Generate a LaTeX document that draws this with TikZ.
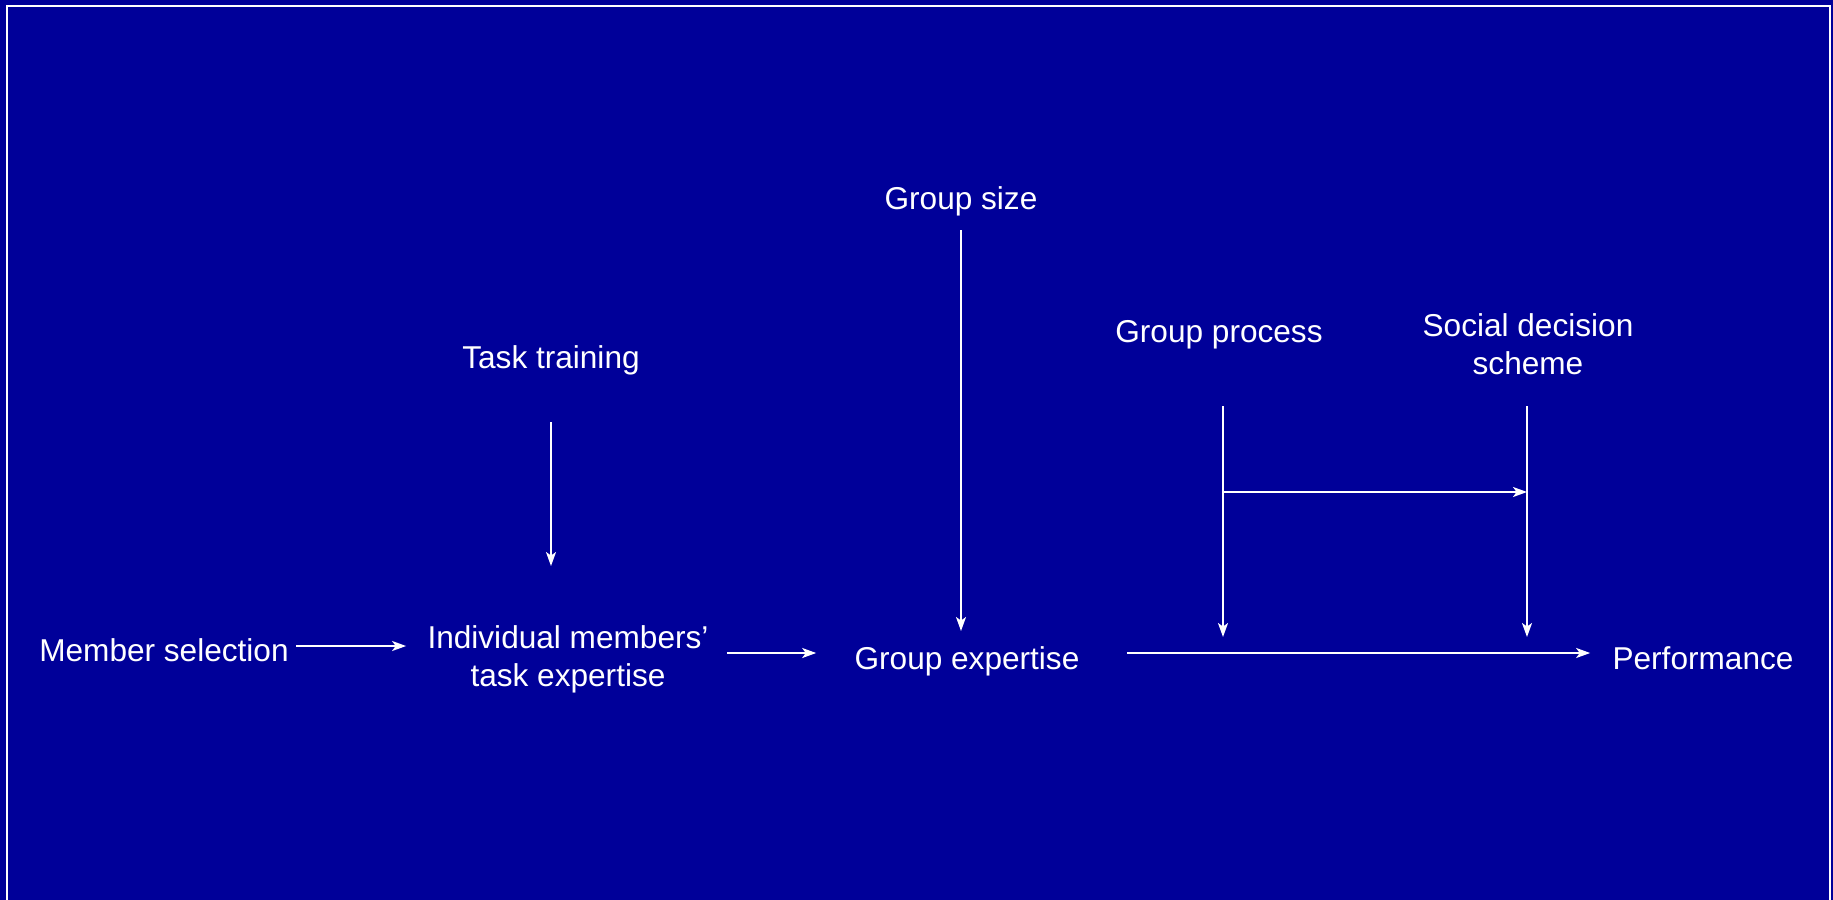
\documentclass[tikz,border=0pt]{standalone}
\usepackage{fontspec}
\setmainfont{Liberation Sans}
\usetikzlibrary{arrows.meta}
\definecolor{slideblue}{RGB}{0,0,153}
\tikzset{
  lbl/.style={text=white, inner sep=0pt, font=\fontsize{15.8pt}{19pt}\selectfont, align=center},
  arr/.style={draw=white, line width=1pt, -{Stealth[length=7pt,width=5pt,inset=1.8pt]}},
}
\begin{document}
\begin{tikzpicture}[x=0.5pt, y=-0.5pt]
  \useasboundingbox (0,0) rectangle (1833,900);
  \fill[slideblue] (0,0) rectangle (1833,900);
  \draw[white, line width=1pt] (7,900) -- (7,6) -- (1830,6) -- (1830,900);

  % labels
  \node[lbl] (ms)   at (164,650) {Member selection};
  \node[lbl] (ime)  at (568,659.5) {Individual members'\\task expertise};
  \node[lbl] (ge)   at (967,661.5) {Group expertise};
  \node[lbl] (perf) at (1703,658) {Performance};
  \node[lbl] (tt)   at (551,360.5) {Task training};
  \node[lbl] (gs)   at (961,201.5) {Group size};
  \node[lbl] (gp)   at (1219,334.5) {Group process};
  \node[lbl] (sds)  at (1528,344) {Social decision\\scheme};

  % points where the moderators meet the main path
  \coordinate (gpx) at (1223,653);
  \coordinate (sdx) at (1527,653);
  \coordinate (hy)  at (0,492);

  % main path
  \draw[arr, shorten <=3.5pt, shorten >=10.5pt] ([yshift=2pt]ms.east) -- ([yshift=2pt]ms.east -| ime.west);
  \draw[arr, shorten <=9pt, shorten >=19pt] ([yshift=4.25pt]ge.west -| ime.east) -- ([yshift=4.25pt]ge.west);
  \draw[arr, shorten <=23.5pt, shorten >=11pt] ([yshift=4.25pt]ge.east) -- ([yshift=4.25pt]ge.east -| perf.west);

  % influences from above
  \draw[arr, shorten <=23.25pt, shorten >=4pt] (tt.south) -- (tt.south |- 0,574);
  \draw[arr] (gs.south |- 0,230) -- (gs.south |- 0,631);
  \draw[arr] (gpx |- 0,406) -- ([yshift=8pt]gpx);
  \draw[arr] (sdx |- 0,406) -- ([yshift=8pt]sdx);
  \draw[arr] (gpx |- hy) -- (sdx |- hy);
\end{tikzpicture}
\end{document}
